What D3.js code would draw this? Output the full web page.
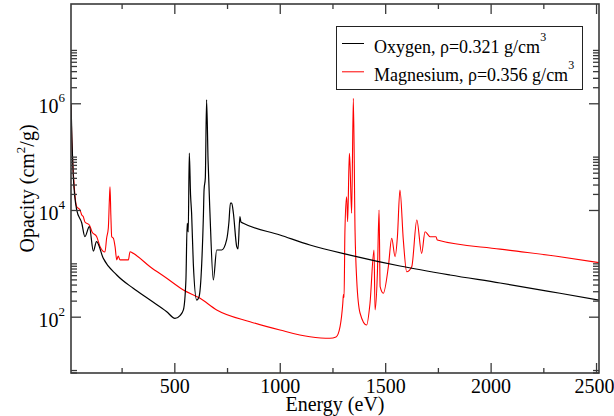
<!DOCTYPE html>
<html>
<head>
<meta charset="utf-8">
<script src="https://cdn.jsdelivr.net/npm/d3@7"></script>
<style>
  body { margin: 0; background: #fff; }
  text { font-family: "Liberation Serif", "Times New Roman", "DejaVu Serif", serif; fill: #000; }
</style>
</head>
<body>
<div id="chart"></div>
<script>
// Oxygen, rho = 0.321 g/cm3
const oxygenEnergy = [10, 14.7, 21, 37, 61, 76, 97, 116, 131, 163, 227, 305, 385, 464, 503, 527, 543, 555, 561, 566, 571, 577, 582, 590, 606, 617, 630, 638, 641, 647, 653, 660, 669, 685, 701, 725, 748, 759, 766, 772, 780, 796, 802, 811, 816, 827, 1001, 1143, 1333, 1570, 1807, 2045, 2329, 2514];
const oxygenOpacity = [1.0e6, 2.05e5, 4.2e4, 1.0e4, 5700, 3160, 4860, 1700, 2550, 1240, 605, 340, 205, 124, 93, 105, 134, 488, 5640, 3870, 1.16e5, 1.91e4, 8670, 1000, 205, 234, 1000, 8050, 2.37e4, 4.0e4, 1.16e6, 8.6e4, 8790, 488, 1780, 1780, 2740, 5960, 1.35e4, 1.35e4, 8790, 2050, 1860, 7480, 5960, 5640, 3400, 2210, 1430, 891, 605, 428, 275, 205];

// Magnesium, rho = 0.356 g/cm3
const magnesiumEnergy = [10, 13.3, 18, 26.6, 37, 52.6, 61, 68, 76, 97, 110, 132, 148, 171, 179, 187, 192, 195, 199, 203, 211, 219, 227, 234, 242, 282, 290, 305, 385, 464, 543, 622, 701, 859, 1001, 1143, 1238, 1267, 1286, 1299, 1302, 1305, 1309, 1317, 1322, 1330, 1333, 1341, 1349, 1357, 1365, 1381, 1412, 1428, 1447, 1452, 1463, 1471, 1476, 1491, 1515, 1531, 1547, 1558, 1570, 1586, 1602, 1626, 1650, 1673, 1689, 1713, 1741, 1747, 2045, 2329, 2514];
const magnesiumOpacity = [1.0e6, 2.37e5, 8.65e4, 2.37e4, 1.15e4, 1.0e4, 8050, 7550, 5960, 5240, 3870, 3160, 2050, 1630, 2990, 4600, 1.54e4, 2.73e4, 8050, 3160, 2950, 2050, 1160, 1370, 1160, 1160, 1650, 1540, 865, 525, 316, 221, 134, 80.6, 56.4, 42.2, 39.4, 41.6, 65, 178, 260, 230, 3920, 1.77e4, 6000, 1.16e5, 7.5e4, 8670, 1.24e6, 4220, 488, 116, 69.8, 178, 1780, 134, 650, 1.0e4, 365, 275, 865, 2950, 1330, 3160, 2.37e4, 2740, 697, 865, 6500, 1540, 3920, 3160, 3160, 2740, 1850, 1330, 1030];

// ticks
const xMajorTicks = [500, 1000, 1500, 2000, 2500];
const xMinorTicks = [250, 750, 1250, 1750, 2250];
const yMajorTicks = [1e2, 1e4, 1e6];
const yMajorExp = ["2", "4", "6"];
const yMinorTicks = [9, 10, 200, 300, 400, 500, 600, 700, 800, 900, 1000,
  2e4, 3e4, 4e4, 5e4, 6e4, 7e4, 8e4, 9e4, 1e5,
  2e6, 3e6, 4e6, 5e6, 6e6, 7e6, 8e6, 9e6, 1e7];

const seriesNames = ["Oxygen, \u03c1=0.321 g/cm", "Magnesium, \u03c1=0.356 g/cm"];
const seriesColors = ["#000000", "#ff0000"];

const W = 614, H = 416;
const margin = { left: 71, right: 599, top: 4, bottom: 373 };
const axisColor = "#3a3a3a";

const svg = d3.select("#chart").append("svg")
  .attr("width", W)
  .attr("height", H);

const x = d3.scaleLinear().domain([10, 2514]).range([margin.left, margin.right]);
const y = d3.scaleLog().domain([8.8, 7.26e7]).range([margin.bottom, margin.top]);

// clip for curves
svg.append("clipPath").attr("id", "plotclip")
  .append("rect")
  .attr("x", margin.left).attr("y", margin.top)
  .attr("width", margin.right - margin.left).attr("height", margin.bottom - margin.top);

const line = d3.line()
  .x(d => x(d[0]))
  .y(d => y(d[1]))
  .curve(d3.curveMonotoneX);

const oxygen = oxygenEnergy.map((e, i) => [e, oxygenOpacity[i]]);
const magnesium = magnesiumEnergy.map((e, i) => [e, magnesiumOpacity[i]]);

const curves = svg.append("g").attr("clip-path", "url(#plotclip)");

curves.append("path")
  .datum(magnesium)
  .attr("fill", "none")
  .attr("stroke", seriesColors[1])
  .attr("stroke-width", 1.1)
  .attr("stroke-linejoin", "round")
  .attr("d", line);

curves.append("path")
  .datum(oxygen)
  .attr("fill", "none")
  .attr("stroke", seriesColors[0])
  .attr("stroke-width", 1.2)
  .attr("stroke-linejoin", "round")
  .attr("d", line);

// axes: ticks point inward on all four sides
function styleAxis(g) {
  g.select(".domain").remove();
  g.selectAll(".tick line").attr("stroke", axisColor).attr("stroke-width", 1.3);
}

svg.append("g")
  .attr("transform", `translate(0,${margin.bottom})`)
  .call(d3.axisBottom(x).tickValues(xMajorTicks).tickSize(-10).tickPadding(6).tickFormat(d3.format("d")))
  .call(styleAxis)
  .call(g => g.selectAll("text")
    .style("font-size", "20px")
    .style("font-family", "Liberation Serif")
    .attr("dx", d => d === 2500 ? -2 : 0));

svg.append("g")
  .attr("transform", `translate(0,${margin.bottom})`)
  .call(d3.axisBottom(x).tickValues(xMinorTicks).tickSize(-5).tickFormat(""))
  .call(styleAxis);

svg.append("g")
  .attr("transform", `translate(0,${margin.top})`)
  .call(d3.axisTop(x).tickValues(xMajorTicks).tickSize(-10).tickFormat(""))
  .call(styleAxis);

svg.append("g")
  .attr("transform", `translate(0,${margin.top})`)
  .call(d3.axisTop(x).tickValues(xMinorTicks).tickSize(-5).tickFormat(""))
  .call(styleAxis);

svg.append("g")
  .attr("transform", `translate(${margin.left},0)`)
  .call(d3.axisLeft(y).tickValues(yMajorTicks).tickSize(-10).tickFormat(""))
  .call(styleAxis);

svg.append("g")
  .attr("transform", `translate(${margin.left},0)`)
  .call(d3.axisLeft(y).tickValues(yMinorTicks).tickSize(-6).tickFormat(""))
  .call(styleAxis);

svg.append("g")
  .attr("transform", `translate(${margin.right},0)`)
  .call(d3.axisRight(y).tickValues(yMajorTicks).tickSize(-10).tickFormat(""))
  .call(styleAxis);

svg.append("g")
  .attr("transform", `translate(${margin.right},0)`)
  .call(d3.axisRight(y).tickValues(yMinorTicks).tickSize(-6).tickFormat(""))
  .call(styleAxis);

// y tick labels 10^n
yMajorTicks.forEach((v, i) => {
  const t = svg.append("text")
    .attr("x", margin.left - 6)
    .attr("y", y(v) + 10)
    .attr("text-anchor", "end")
    .style("font-size", "20px");
  t.append("tspan").text("10");
  t.append("tspan")
    .attr("dy", -11)
    .style("font-size", "13px")
    .text(yMajorExp[i]);
});

// frame
svg.append("rect")
  .attr("x", margin.left).attr("y", margin.top)
  .attr("width", margin.right - margin.left).attr("height", margin.bottom - margin.top)
  .attr("fill", "none")
  .attr("stroke", axisColor)
  .attr("stroke-width", 1.6);

// axis titles
svg.append("text")
  .attr("x", (margin.left + margin.right) / 2)
  .attr("y", 411)
  .attr("text-anchor", "middle")
  .style("font-size", "20px")
  .text("Energy (eV)");

const yt = svg.append("text")
  .attr("transform", `translate(34,${(margin.top + margin.bottom) / 2}) rotate(-90)`)
  .attr("text-anchor", "middle")
  .style("font-size", "20px");
yt.append("tspan").text("Opacity (cm");
yt.append("tspan").attr("dy", -9).style("font-size", "13px").text("2");
yt.append("tspan").attr("dy", 9).text("/g)");

// legend
const legend = svg.append("g");
legend.append("rect")
  .attr("x", 336.5).attr("y", 26.5)
  .attr("width", 246).attr("height", 63)
  .attr("fill", "#fff")
  .attr("stroke", "#222")
  .attr("stroke-width", 1);

seriesNames.forEach((name, i) => {
  const ly = 43.5 + i * 28.3;
  legend.append("line")
    .attr("x1", 342).attr("x2", 364)
    .attr("y1", ly).attr("y2", ly)
    .attr("stroke", seriesColors[i])
    .attr("stroke-width", 1);
  const t = legend.append("text")
    .attr("x", 374)
    .attr("y", ly + 9.5)
    .style("font-size", "18px");
  t.append("tspan").text(name);
  t.append("tspan").attr("dy", -12).style("font-size", "12px").text("3");
});
</script>
</body>
</html>
